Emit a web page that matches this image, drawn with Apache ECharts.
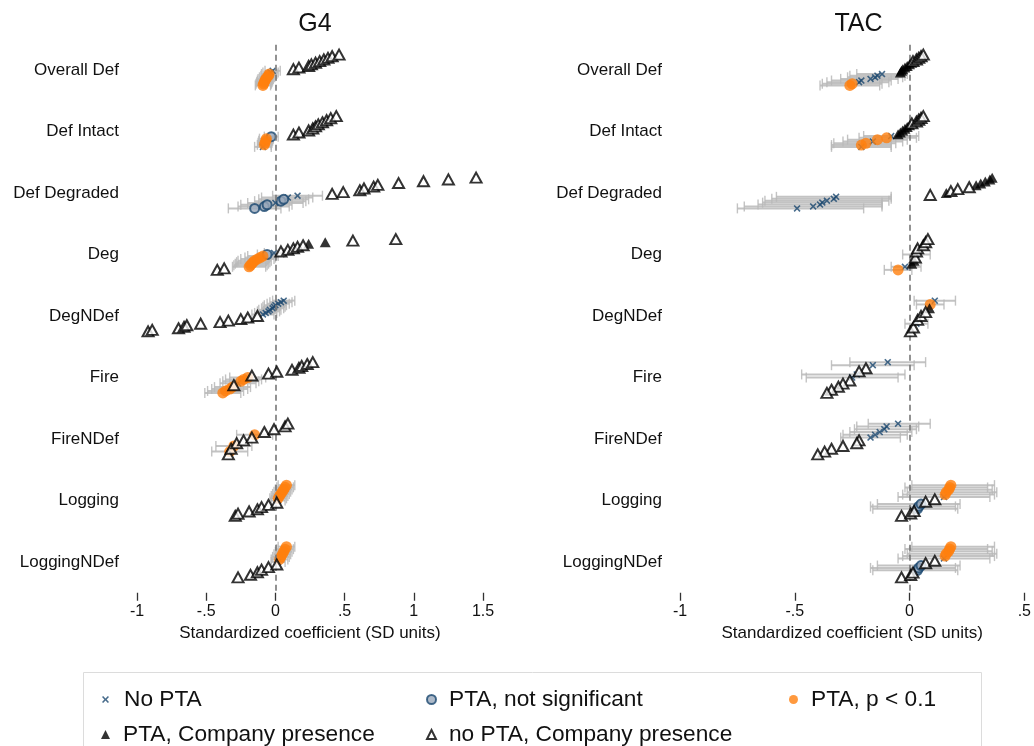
<!DOCTYPE html>
<html><head><meta charset="utf-8">
<script src="https://cdn.jsdelivr.net/npm/echarts/dist/echarts.min.js"></script>
<style>html,body{margin:0;padding:0;background:#fff}#c{width:1034px;height:746px}</style>
</head><body><div id="c"></div>
<script>
// ---------------- DATA ----------------
const rows = ['Overall Def','Def Intact','Def Degraded','Deg','DegNDef','Fire','FireNDef','Logging','LoggingNDef'];
const panelTitles = ['G4','TAC'];
const tickLabels = {'-1':'-1','-0.5':'-.5','0':'0','0.5':'.5','1':'1','1.5':'1.5'};
const legendNames = ['No PTA','PTA, not significant','PTA, p < 0.1','PTA, Company presence','no PTA, Company presence'];

// [row, estimate, ciLow, ciHigh]
const g4NoPTA = [
 [0,-0.02,-0.075,0.035],[0,-0.035,-0.09,0.02],
 [1,-0.09,-0.15,-0.03],
 [2,0.0,-0.2,0.2],[2,0.09,-0.1,0.27],[2,0.16,-0.02,0.34],
 [3,-0.01,-0.08,0.06],
 [4,-0.09,-0.17,-0.01],[4,-0.07,-0.15,0.01],[4,-0.05,-0.13,0.03],[4,-0.04,-0.12,0.04],[4,-0.02,-0.1,0.06],
 [4,-0.01,-0.09,0.07],[4,0.0,-0.08,0.08],[4,0.02,-0.06,0.1],[4,0.04,-0.04,0.12],[4,0.06,-0.02,0.14],
 [5,-0.27,-0.4,-0.14],
 [7,0.02,-0.03,0.07],[8,0.02,-0.03,0.07]
];
const g4PtaNS = [
 [1,-0.03,-0.08,0.02],
 [2,-0.15,-0.34,0.04],[2,-0.08,-0.27,0.1],[2,-0.06,-0.25,0.12],[2,0.04,-0.15,0.22],[2,0.06,-0.12,0.24],
 [3,-0.06,-0.13,0.01]
];
const g4PtaSig = [
 [0,-0.09,-0.145,-0.035],[0,-0.085,-0.14,-0.03],[0,-0.08,-0.135,-0.025],[0,-0.075,-0.13,-0.02],
 [0,-0.07,-0.125,-0.015],[0,-0.06,-0.115,-0.005],[0,-0.05,-0.105,0.005],[0,-0.045,-0.1,0.01],
 [1,-0.08,-0.13,-0.03],[1,-0.075,-0.125,-0.025],[1,-0.07,-0.12,-0.02],[1,-0.065,-0.115,-0.015],
 [3,-0.19,-0.31,-0.07],[3,-0.18,-0.3,-0.06],[3,-0.17,-0.29,-0.05],[3,-0.16,-0.28,-0.04],
 [3,-0.15,-0.27,-0.03],[3,-0.13,-0.25,-0.01],[3,-0.11,-0.22,0.0],[3,-0.09,-0.2,0.02],
 [5,-0.38,-0.51,-0.25],[5,-0.36,-0.49,-0.23],[5,-0.33,-0.46,-0.2],[5,-0.31,-0.44,-0.18],
 [5,-0.25,-0.38,-0.12],[5,-0.23,-0.36,-0.1],[5,-0.2,-0.33,-0.07],
 [6,-0.33,-0.46,-0.2],[6,-0.3,-0.43,-0.17],[6,-0.15,-0.28,-0.02],
 [7,0.02,-0.04,0.08],[7,0.03,-0.03,0.09],[7,0.04,-0.02,0.1],[7,0.05,-0.01,0.11],[7,0.06,0.0,0.12],[7,0.07,0.01,0.13],[7,0.08,0.02,0.14],
 [8,0.03,-0.03,0.09],[8,0.04,-0.02,0.1],[8,0.05,-0.01,0.11],[8,0.06,0.0,0.12],[8,0.07,0.01,0.13],[8,0.08,0.02,0.14]
];
// [row, estimate]
const g4PtaCo = [[3,0.24],[3,0.36]];
const g4NoPtaCo = [
 [0,0.13],[0,0.17],[0,0.24],[0,0.26],[0,0.29],[0,0.32],[0,0.35],[0,0.38],[0,0.41],[0,0.46],
 [1,0.13],[1,0.17],[1,0.24],[1,0.27],[1,0.29],[1,0.31],[1,0.34],[1,0.37],[1,0.40],[1,0.44],
 [2,0.41],[2,0.49],[2,0.61],[2,0.64],[2,0.71],[2,0.74],[2,0.89],[2,1.07],[2,1.25],[2,1.45],
 [3,-0.42],[3,-0.37],[3,0.04],[3,0.09],[3,0.13],[3,0.16],[3,0.20],[3,0.56],[3,0.87],
 [4,-0.92],[4,-0.89],[4,-0.70],[4,-0.66],[4,-0.64],[4,-0.54],[4,-0.40],[4,-0.34],[4,-0.25],[4,-0.20],[4,-0.13],
 [5,-0.30],[5,-0.17],[5,-0.05],[5,0.01],[5,0.12],[5,0.17],[5,0.19],[5,0.23],[5,0.27],
 [6,-0.34],[6,-0.32],[6,-0.28],[6,-0.23],[6,-0.17],[6,-0.08],[6,-0.01],[6,0.07],[6,0.09],
 [7,-0.29],[7,-0.27],[7,-0.19],[7,-0.13],[7,-0.10],[7,-0.05],[7,0.01],
 [8,-0.27],[8,-0.18],[8,-0.13],[8,-0.10],[8,-0.05],[8,0.01]
];

const tacNoPTA = [
 [0,-0.12,-0.23,-0.01],[0,-0.14,-0.26,-0.02],[0,-0.15,-0.27,-0.03],[0,-0.17,-0.3,-0.05],[0,-0.21,-0.34,-0.08],[0,-0.22,-0.36,-0.09],
 [1,-0.08,-0.2,0.04],[1,-0.16,-0.29,-0.03],[1,-0.21,-0.34,-0.08],
 [2,-0.49,-0.75,-0.2],[2,-0.42,-0.72,-0.12],[2,-0.39,-0.66,-0.12],[2,-0.38,-0.64,-0.12],[2,-0.36,-0.63,-0.09],[2,-0.33,-0.6,-0.08],[2,-0.32,-0.58,-0.08],
 [3,-0.02,-0.08,0.05],[3,0.03,-0.03,0.09],
 [4,0.11,0.02,0.2],[4,0.03,-0.02,0.08],
 [5,-0.095,-0.26,0.07],[5,-0.16,-0.34,0.02],[5,-0.23,-0.47,-0.02],[5,-0.25,-0.45,-0.05],
 [6,-0.05,-0.18,0.09],[6,-0.1,-0.23,0.04],[6,-0.11,-0.24,0.03],[6,-0.13,-0.26,0.01],[6,-0.15,-0.29,-0.01],[6,-0.17,-0.3,-0.04],
 [7,0.15,-0.05,0.35],[8,0.15,-0.05,0.35]
];
const tacPtaNS = [
 [7,0.035,-0.16,0.21],[7,0.04,-0.17,0.2],[7,0.05,-0.14,0.22],
 [8,0.035,-0.16,0.21],[8,0.04,-0.17,0.2],[8,0.05,-0.14,0.22]
];
const tacPtaSig = [
 [0,-0.26,-0.39,-0.13],[0,-0.25,-0.38,-0.12],
 [1,-0.1,-0.22,0.03],[1,-0.14,-0.27,-0.01],[1,-0.19,-0.33,-0.06],[1,-0.21,-0.34,-0.08],
 [3,-0.05,-0.11,0.01],
 [4,0.09,0.03,0.15],
 [7,0.155,-0.03,0.37],[7,0.16,-0.01,0.38],[7,0.17,0.0,0.36],[7,0.175,-0.02,0.34],[7,0.18,0.01,0.37],
 [8,0.155,-0.03,0.37],[8,0.16,-0.01,0.38],[8,0.17,0.0,0.36],[8,0.175,-0.02,0.34],[8,0.18,0.01,0.37]
];
const tacPtaCo = [
 [0,-0.04],[0,-0.035],[0,-0.03],[0,-0.02],[0,-0.01],[0,0.0],[0,0.01],
 [1,-0.05],[1,-0.04],[1,-0.03],[1,-0.02],[1,-0.01],[1,0.0],
 [2,0.16],[2,0.29],[2,0.31],[2,0.33],[2,0.35],[2,0.36],
 [3,0.01],[3,0.02],
 [4,0.087]
];
const tacNoPtaCo = [
 [0,0.015],[0,0.03],[0,0.04],[0,0.05],[0,0.06],
 [1,0.01],[1,0.03],[1,0.04],[1,0.05],[1,0.06],
 [2,0.09],[2,0.18],[2,0.21],[2,0.26],
 [3,0.025],[3,0.03],[3,0.035],[3,0.06],[3,0.07],[3,0.08],
 [4,0.004],[4,0.017],[4,0.035],[4,0.05],[4,0.07],
 [5,-0.19],[5,-0.22],[5,-0.26],[5,-0.29],[5,-0.31],[5,-0.34],[5,-0.36],
 [6,-0.22],[6,-0.23],[6,-0.29],[6,-0.34],[6,-0.37],[6,-0.40],
 [7,-0.035],[7,0.005],[7,0.02],[7,0.07],[7,0.11],
 [8,-0.035],[8,0.005],[8,0.015],[8,0.07],[8,0.11]
];
const zeroLineExtent = [-0.41, 8.5];

// ---------------- LAYOUT / STYLE ----------------
const FONT = 'Liberation Sans, Arial, Helvetica, sans-serif';
const SPREAD = 0.5;
const NAVY = '#1a476f', ORANGE = '#ff7f0e', CI = 'rgba(185,185,185,0.85)';
const xMark = 'path://M0,1.6L1.6,0L5,3.4L8.4,0L10,1.6L6.6,5L10,8.4L8.4,10L5,6.6L1.6,10L0,8.4L3.4,5Z';

const panels = [
  {sets:[g4NoPTA,g4PtaNS,g4PtaSig,g4PtaCo,g4NoPtaCo], min:-1, max:1.5, left:137, width:346},
  {sets:[tacNoPTA,tacPtaNS,tacPtaSig,tacPtaCo,tacNoPtaCo], min:-1, max:0.5, left:680, width:347}
];

const styles = [
  {symbol:xMark, symbolSize:7, itemStyle:{color:NAVY}},
  {symbol:'circle', symbolSize:9, itemStyle:{color:'#9aa9bb', borderColor:NAVY, borderWidth:2}},
  {symbol:'circle', symbolSize:11, itemStyle:{color:ORANGE}},
  {symbol:'triangle', symbolSize:[11,10], itemStyle:{color:'#000'}},
  {symbol:'triangle', symbolSize:[11,10], itemStyle:{color:'#fff', borderColor:'#000', borderWidth:2}}
];

function layout(sets){
  const all = [];
  sets.forEach((s,t)=>s.forEach(d=>all.push({t, row:d[0], est:d[1], lo:d[2], hi:d[3]})));
  for(let r=0;r<rows.length;r++){
    const pts = all.filter(p=>p.row===r).sort((a,b)=>a.est-b.est);
    const n = pts.length;
    pts.forEach((p,i)=>{ p.y = r + (n>1 ? SPREAD/2 - i*SPREAD/(n-1) : 0); });
  }
  return all;
}

const grids=[], xAxes=[], yAxes=[], series=[], titles=[];
panels.forEach((P,k)=>{
  grids.push({left:P.left, width:P.width, top:39.25, height:553.5});
  titles.push({text:panelTitles[k], left:P.left+P.width/2, top:7, textAlign:'center',
    textStyle:{fontFamily:FONT, fontSize:25, fontWeight:'normal', color:'#111'}});
  xAxes.push({type:'value', gridIndex:k, min:P.min, max:P.max, interval:0.5, position:'bottom',
    axisLine:{show:false, onZero:false}, splitLine:{show:false},
    axisTick:{show:true, length:8, lineStyle:{color:'#333', width:1.3}},
    axisLabel:{margin:11, fontFamily:FONT, fontSize:16, color:'#111',
      formatter:v=>tickLabels[String(Math.round(v*10)/10)] ?? String(v)},
    name:'Standardized coefficient (SD units)', nameLocation:'middle', nameGap:31,
    nameTextStyle:{fontFamily:FONT, fontSize:17, color:'#111'}});
  yAxes.push({type:'value', gridIndex:k, min:-0.5, max:rows.length-0.5, inverse:true, show:false});
  yAxes.push({type:'category', gridIndex:k, data:rows, inverse:true, position:'left',
    axisLine:{show:false}, axisTick:{show:false}, splitLine:{show:false},
    axisLabel:{margin:18, fontFamily:FONT, fontSize:17, color:'#111'}});
  const pts = layout(P.sets);
  const yIdx = k*2;
  series.push({type:'custom', xAxisIndex:k, yAxisIndex:yIdx, silent:true, z:1,
    encode:{x:[0,1], y:2},
    data: pts.filter(p=>p.lo!=null).map(p=>[p.lo,p.hi,p.y]),
    renderItem:(params, api)=>{
      const a = api.coord([api.value(0), api.value(2)]);
      const b = api.coord([api.value(1), api.value(2)]);
      const h = 5;
      const st = {stroke:CI, lineWidth:2};
      const st2 = {stroke:CI, lineWidth:1.4};
      return {type:'group', children:[
        {type:'line', shape:{x1:a[0],y1:a[1],x2:b[0],y2:b[1]}, style:st},
        {type:'line', shape:{x1:a[0],y1:a[1]-h,x2:a[0],y2:a[1]+h}, style:st2},
        {type:'line', shape:{x1:b[0],y1:b[1]-h,x2:b[0],y2:b[1]+h}, style:st2}
      ]};
    },
    markLine: {silent:true, symbol:'none', label:{show:false},
      lineStyle:{color:'#777', type:[6,4], width:1.6},
      data:[[{xAxis:0, yAxis:zeroLineExtent[0]},{xAxis:0, yAxis:zeroLineExtent[1]}]]}
  });
  styles.forEach((s,t)=>{
    series.push(Object.assign({type:'scatter', name:legendNames[t], xAxisIndex:k, yAxisIndex:yIdx, z:2+t,
      data: pts.filter(p=>p.t===t).map(p=>[p.est,p.y])}, s));
  });
});

const legPos = [[97,683],[421,683],[784,683],[96,718],[421,718]];
const legends = legendNames.map((nm,i)=>({
  data:[nm], left:legPos[i][0], top:legPos[i][1], selectedMode:false,
  itemWidth: i===0?7:9, itemHeight: i===0?7:9,
  textStyle:{fontFamily:FONT, fontSize:22.7, color:'#111', padding:[0,0,0,i===0?10:8]}
}));

const chart = echarts.init(document.getElementById('c'));
chart.setOption({
  animation:false,
  backgroundColor:'#fff',
  title:titles,
  grid:grids, xAxis:xAxes, yAxis:yAxes,
  legend:legends,
  graphic:[{type:'rect', shape:{x:83.5, y:672.5, width:898, height:90},
    style:{fill:'none', stroke:'#dcdcdc', lineWidth:1}}],
  series:series
});
</script></body></html>
